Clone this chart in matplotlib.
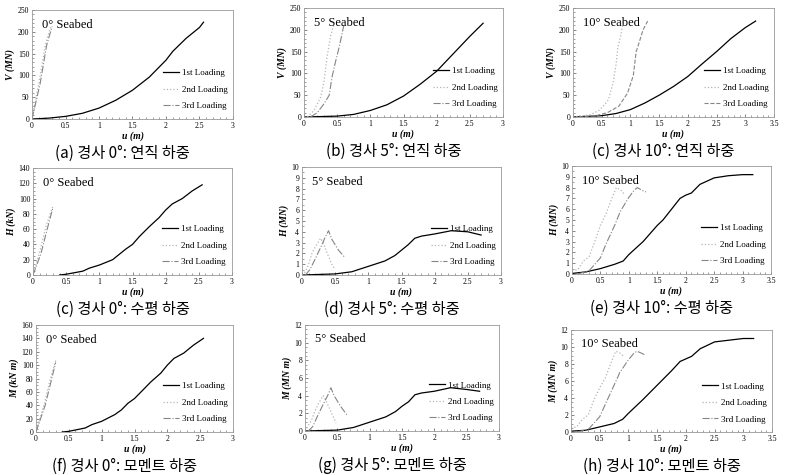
import matplotlib
matplotlib.use('Agg')
import matplotlib.pyplot as plt
from matplotlib.ticker import MultipleLocator, FormatStrFormatter

plt.rcParams['font.family'] = ['Liberation Serif', 'DejaVu Serif']

# ---- data: (u, load) per loading ----
# (a) 0 deg, vertical V (MN)
a1_u = [0, 0.25, 0.5, 0.75, 1.0, 1.25, 1.5, 1.75, 2.0, 2.1, 2.3, 2.5, 2.56]
a1_v = [0, 2, 6, 13, 25, 43, 66, 96, 135, 155, 185, 210, 222]
a2_u = [0, 0.1, 0.2, 0.27, 0.3]
a2_v = [0, 80, 170, 208, 212]
a3_u = [0, 0.12, 0.22, 0.3]
a3_v = [0, 80, 170, 212]

# (b) 5 deg, vertical V (MN)
b1_u = [0, 0.5, 0.75, 1.0, 1.25, 1.5, 1.75, 2.0, 2.25, 2.5, 2.7]
b1_v = [0, 2, 6, 15, 28, 48, 75, 105, 145, 185, 215]
b2_u = [0.05, 0.15, 0.25, 0.3, 0.35, 0.4, 0.45]
b2_v = [0, 15, 45, 80, 140, 185, 212]
b3_u = [0.1, 0.2, 0.3, 0.38, 0.42, 0.48, 0.53, 0.6]
b3_v = [0, 10, 30, 50, 90, 130, 160, 210]

# (c) 10 deg, vertical V (MN)
c1_u = [0, 0.5, 0.75, 1.0, 1.25, 1.5, 1.75, 2.0, 2.25, 2.5, 2.75, 3.0, 3.18]
c1_v = [0, 3, 8, 17, 32, 50, 70, 93, 122, 150, 180, 205, 220]
c2_u = [0, 0.3, 0.45, 0.55, 0.62, 0.7, 0.75, 0.78, 0.82, 0.88]
c2_v = [0, 5, 15, 28, 40, 80, 120, 160, 180, 220]
c3_u = [0.1, 0.4, 0.6, 0.8, 0.95, 1.05, 1.1, 1.15, 1.22, 1.3]
c3_v = [0, 3, 10, 25, 55, 95, 150, 170, 200, 220]

# (c') 0 deg, horizontal H (kN)
d1_u = [0.4, 0.5, 0.75, 0.85, 1.0, 1.2, 1.3, 1.4, 1.5, 1.6, 1.75, 1.9, 2.0, 2.1, 2.25, 2.4, 2.55]
d1_h = [0, 1, 5, 9, 13, 20, 27, 34, 40, 50, 63, 75, 85, 93, 100, 110, 118]
d2_u = [0, 0.1, 0.2, 0.3]
d2_h = [0, 30, 65, 90]
d3_u = [0, 0.12, 0.22, 0.3]
d3_h = [0, 28, 62, 88]

# (d) 5 deg, horizontal H (MN)
e1_u = [0, 0.5, 0.75, 1.0, 1.25, 1.4, 1.5, 1.6, 1.7, 1.8, 2.0, 2.25, 2.5, 2.7]
e1_h = [0, 0.1, 0.3, 0.8, 1.3, 1.8, 2.3, 2.8, 3.4, 3.6, 3.8, 4.1, 4.0, 3.7]
e2_u = [0, 0.05, 0.1, 0.15, 0.2, 0.28, 0.32, 0.38, 0.45, 0.5]
e2_h = [0, 0.3, 1.0, 2.0, 2.6, 3.4, 3.0, 2.0, 1.0, 0.5]
e3_u = [0.05, 0.12, 0.2, 0.3, 0.35, 0.4, 0.45, 0.55, 0.65]
e3_h = [0, 0.5, 1.5, 2.8, 3.5, 4.1, 3.3, 2.3, 1.6]

# (e) 10 deg, horizontal H (MN)
f1_u = [0, 0.25, 0.5, 0.75, 0.9, 1.0, 1.25, 1.5, 1.6, 1.75, 1.9, 2.0, 2.1, 2.25, 2.5, 2.75, 3.0, 3.18]
f1_h = [0.05, 0.2, 0.5, 0.9, 1.2, 1.8, 3.0, 4.5, 5.0, 6.0, 7.0, 7.3, 7.5, 8.3, 8.9, 9.1, 9.2, 9.2]
f2_u = [0, 0.1, 0.2, 0.3, 0.4, 0.5, 0.6, 0.7, 0.78, 0.85, 0.92]
f2_h = [0.3, 0.4, 1.2, 1.6, 3.0, 4.5, 5.6, 7.0, 8.0, 7.8, 7.4]
f3_u = [0.1, 0.3, 0.5, 0.6, 0.75, 0.85, 1.0, 1.1, 1.15, 1.25, 1.3]
f3_h = [0, 0.3, 1.5, 2.8, 4.5, 5.8, 7.1, 7.8, 8.0, 7.7, 7.6]

# (f) 0 deg, moment M (kN m)
g1_u = [0.4, 0.5, 0.75, 0.85, 1.0, 1.2, 1.3, 1.4, 1.5, 1.6, 1.75, 1.9, 2.0, 2.1, 2.25, 2.4, 2.55]
g1_m = [0, 1, 6, 11, 16, 26, 33, 43, 50, 60, 75, 88, 100, 110, 118, 130, 140]
g2_u = [0, 0.12, 0.22, 0.3]
g2_m = [0, 40, 80, 107]
g3_u = [0, 0.14, 0.24, 0.3]
g3_m = [0, 40, 80, 104]

# (g) 5 deg, moment M (MN m)
h1_u = [0, 0.5, 0.75, 1.0, 1.25, 1.4, 1.5, 1.6, 1.7, 1.8, 2.0, 2.25, 2.5, 2.7]
h1_m = [0, 0.1, 0.4, 1.0, 1.6, 2.2, 2.8, 3.3, 4.1, 4.3, 4.5, 4.9, 4.7, 4.5]
h2_u = [0, 0.1, 0.15, 0.2, 0.28, 0.32, 0.4, 0.48]
h2_m = [0, 1.2, 2.2, 3.0, 4.0, 3.5, 2.2, 0.9]
h3_u = [0.05, 0.12, 0.2, 0.3, 0.35, 0.4, 0.45, 0.55, 0.65]
h3_m = [0, 0.5, 1.8, 3.3, 4.0, 4.9, 4.0, 2.8, 1.8]

# (h) 10 deg, moment M (MN m)
i1_u = [0, 0.25, 0.5, 0.75, 0.9, 1.0, 1.25, 1.5, 1.75, 1.9, 2.0, 2.1, 2.25, 2.5, 2.75, 3.0, 3.18]
i1_m = [0.1, 0.2, 0.6, 1.0, 1.5, 2.2, 3.8, 5.5, 7.2, 8.3, 8.6, 8.9, 9.8, 10.6, 10.8, 11.0, 11.0]
i2_u = [0, 0.1, 0.2, 0.3, 0.4, 0.5, 0.6, 0.7, 0.78, 0.85, 0.92]
i2_m = [0.5, 0.6, 1.5, 2.0, 3.8, 5.2, 6.4, 8.2, 9.5, 9.3, 8.9]
i3_u = [0.1, 0.3, 0.5, 0.6, 0.75, 0.85, 1.0, 1.1, 1.15, 1.25, 1.3]
i3_m = [0, 0.3, 1.8, 3.3, 5.5, 7.0, 8.5, 9.3, 9.5, 9.2, 9.0]

panels = [
    # pixel box (left, right, top, bottom), series, xmax, ymax, ymajor, yminor, ylabel, seabed, caption
    ((32, 233, 10, 119), [(a1_u, a1_v), (a2_u, a2_v), (a3_u, a3_v)], 3, 250, 50, 10,
     'V (MN)', '0° Seabed', '(a) 경사 0°: 연직 하중', '-.'),
    ((304, 503, 8, 117), [(b1_u, b1_v), (b2_u, b2_v), (b3_u, b3_v)], 3, 250, 50, 10,
     'V (MN)', '5° Seabed', '(b) 경사 5°: 연직 하중', '-.'),
    ((573, 774, 8, 117), [(c1_u, c1_v), (c2_u, c2_v), (c3_u, c3_v)], 3.5, 250, 50, 10,
     'V (MN)', '10° Seabed', '(c) 경사 10°: 연직 하중', '--'),
    ((33, 232, 168, 275), [(d1_u, d1_h), (d2_u, d2_h), (d3_u, d3_h)], 3, 140, 20, 5,
     'H (kN)', '0° Seabed', '(c) 경사 0°: 수평 하중', '-.'),
    ((302, 501, 167, 275), [(e1_u, e1_h), (e2_u, e2_h), (e3_u, e3_h)], 3, 10, 1, 0.5,
     'H (MN)', '5° Seabed', '(d) 경사 5°: 수평 하중', '-.'),
    ((572, 771, 166, 274), [(f1_u, f1_h), (f2_u, f2_h), (f3_u, f3_h)], 3.5, 10, 1, 0.5,
     'H (MN)', '10° Seabed', '(e) 경사 10°: 수평 하중', '-.'),
    ((36, 233, 325, 432), [(g1_u, g1_m), (g2_u, g2_m), (g3_u, g3_m)], 3, 160, 20, 5,
     'M (kN m)', '0° Seabed', '(f) 경사 0°: 모멘트 하중', '-.'),
    ((305, 499, 325, 431), [(h1_u, h1_m), (h2_u, h2_m), (h3_u, h3_m)], 3, 12, 2, 0.5,
     'M (MN m)', '5° Seabed', '(g) 경사 5°: 모멘트 하중', '-.'),
    ((571, 772, 330, 432), [(i1_u, i1_m), (i2_u, i2_m), (i3_u, i3_m)], 3.5, 12, 2, 0.5,
     'M (MN m)', '10° Seabed', '(h) 경사 10°: 모멘트 하중', '-.'),
]

W, H = 786, 475
fig = plt.figure(figsize=(W / 100, H / 100), dpi=100)

for (l, r, t, b), series, xmax, ymax, ymaj, ymin, ylab, seabed, cap, ls3 in panels:
    ax = fig.add_axes([l / W, 1 - b / H, (r - l) / W, (b - t) / H])
    (u1, y1), (u2, y2), (u3, y3) = series
    ax.plot(u1, y1, color='black', lw=0.9, label='1st Loading')
    ax.plot(u2, y2, color='#b5b5b5', lw=0.9, ls=':', label='2nd Loading')
    ax.plot(u3, y3, color='#858585', lw=0.8, ls=ls3, label='3rd Loading')
    ax.set_xlim(0, xmax)
    ax.set_ylim(0, ymax)
    ax.xaxis.set_major_locator(MultipleLocator(0.5))
    ax.xaxis.set_minor_locator(MultipleLocator(0.1))
    ax.yaxis.set_major_locator(MultipleLocator(ymaj))
    ax.yaxis.set_minor_locator(MultipleLocator(ymin))
    ax.xaxis.set_major_formatter(FormatStrFormatter('%g'))
    ax.yaxis.set_major_formatter(FormatStrFormatter('%g'))
    ax.tick_params(which='both', direction='in', labelsize=5.5, colors='#555555',
                   labelcolor='black', pad=2)
    ax.tick_params(which='major', length=2.5, width=0.5)
    ax.tick_params(which='minor', length=1.5, width=0.4)
    for s in ax.spines.values():
        s.set_color('#999999')
        s.set_linewidth(0.6)
    ax.set_xlabel('u (m)', fontsize=7, style='italic', weight='bold', labelpad=1)
    ax.set_ylabel(ylab, fontsize=7, style='italic', weight='bold', labelpad=2)
    ax.text(0.05, 0.92, seabed, transform=ax.transAxes, fontsize=9, va='top', ha='left')
    ax.legend(loc='lower right', bbox_to_anchor=(1.0, 0.03), frameon=False, fontsize=6.5,
              handlelength=1.8, handletextpad=0.3, labelspacing=0.9, borderaxespad=0.2)
    cx = ((l + r) / 2 - 10) / W
    cy = 1 - (b + 34) / H
    fig.text(cx, cy, cap, ha='center', va='center', fontsize=11,
             family=['Noto Sans CJK KR', 'DejaVu Sans'])

plt.savefig('out.png', dpi=100)
